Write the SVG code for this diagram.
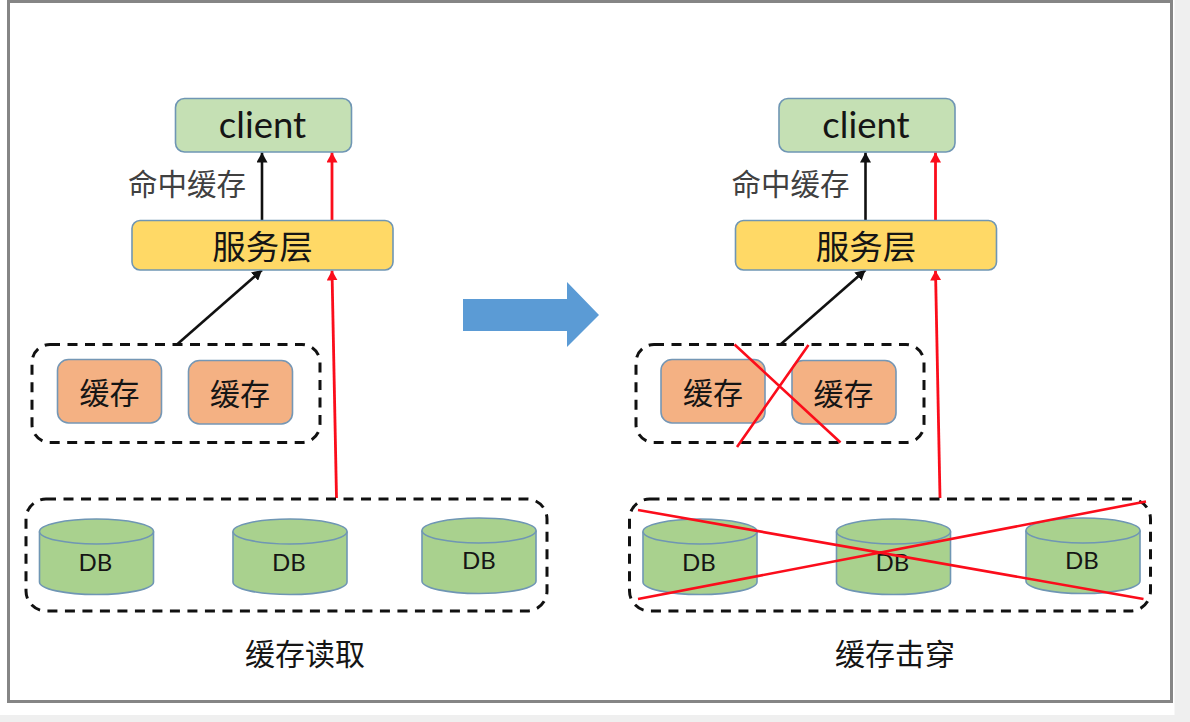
<svg xmlns="http://www.w3.org/2000/svg" width="1190" height="722" viewBox="0 0 1190 722">
<style>
text{text-anchor:middle;font-family:"Noto Sans CJK SC","Noto Sans",sans-serif;fill:#151515;font-weight:400}
.lat{font-family:Lato,"Noto Sans",sans-serif}
.client{fill:#c5e0b4;stroke:#6f96b4;stroke-width:1.6}
.svc{fill:#ffd966;stroke:#6f96b4;stroke-width:1.6}
.cache{fill:#f4b183;stroke:#7597b5;stroke-width:1.6}
.db{fill:#a9d18e;stroke:#6f96b4;stroke-width:1.6}
.grp{fill:none;stroke:#111;stroke-width:3;stroke-dasharray:10 7.5}
.k{fill:none;stroke:#111;stroke-width:2.6}
.r{fill:none;stroke:#fb0d1b;stroke-width:2.8}
.x{fill:none;stroke:#fb0d1b;stroke-width:2.6}
</style>
<defs>
<marker id="ak" markerUnits="userSpaceOnUse" markerWidth="11" markerHeight="11" refX="10" refY="5.500" orient="auto"><path d="M0 0L10 5.500L0 11Z" fill="#111"/></marker>
<marker id="ar" markerUnits="userSpaceOnUse" markerWidth="11" markerHeight="11" refX="10" refY="5.500" orient="auto"><path d="M0 0L10 5.500L0 11Z" fill="#fb0d1b"/></marker>
<g id="cyl"><path class="db" d="M0 12.500V63C0 70 25.500 75.500 57 75.500S114 70 114 63V12.500"/><ellipse class="db" cx="57" cy="12.500" rx="57" ry="12.500"/></g>
</defs>
<rect width="1190" height="722" fill="#efefef"/>
<rect x="0" y="0" width="1174.500" height="715" fill="#fff"/>
<rect id="frame" x="8.500" y="1.500" width="1163" height="700" fill="#fff" stroke="#858585" stroke-width="3"/>
<g id="connectors">
<path class="k" marker-end="url(#ak)" d="M262 220V152.500"/>
<path class="r" marker-end="url(#ar)" d="M332 220V152.500"/>
<path class="k" marker-end="url(#ak)" d="M177.500 344L262 270"/>
<path class="r" marker-end="url(#ar)" d="M336.500 498L332 270.500"/>
<path class="k" marker-end="url(#ak)" d="M865.500 220V152.500"/>
<path class="r" marker-end="url(#ar)" d="M935.500 220V152.500"/>
<path class="k" marker-end="url(#ak)" d="M781 344L865.500 270"/>
<path class="r" marker-end="url(#ar)" d="M940 498L935.500 270.500"/>
</g>
<g id="left-client"><rect class="client" x="175.500" y="98.500" width="176" height="53.500" rx="9"/><text class="lat" x="262.500" y="138" font-size="36.500">client</text></g>
<text id="left-hit" x="187" y="194.500" font-size="29.500" style="fill:#404040">命中缓存</text>
<g id="left-service"><rect class="svc" x="132" y="220.500" width="261" height="49.500" rx="8"/><text x="262.500" y="258.500" font-size="33.500">服务层</text></g>
<rect id="left-cache-group" class="grp" x="32" y="344.500" width="288" height="98" rx="18"/>
<g id="left-cache-1"><rect class="cache" x="57.500" y="359.500" width="104" height="63.500" rx="11"/><text x="109.500" y="404" font-size="30">缓存</text></g>
<g id="left-cache-2"><rect class="cache" x="188.500" y="360.500" width="104" height="63.500" rx="11"/><text x="240" y="405" font-size="30">缓存</text></g>
<rect id="left-db-group" class="grp" x="26" y="499" width="521" height="112" rx="20"/>
<g id="left-db-1"><use href="#cyl" x="39.500" y="519"/><text class="lat" x="95.500" y="571" font-size="24">DB</text></g>
<g id="left-db-2"><use href="#cyl" x="233" y="519"/><text class="lat" x="289" y="571" font-size="24">DB</text></g>
<g id="left-db-3"><use href="#cyl" x="422" y="518"/><text class="lat" x="479" y="569" font-size="24">DB</text></g>
<text id="left-title" x="305" y="665" font-size="30">缓存读取</text>
<path id="big-arrow" d="M463 299H567V282L599 315L567 347V331H463Z" fill="#5b9bd5"/>
<g id="right-client"><rect class="client" x="779" y="98.500" width="176" height="53.500" rx="9"/><text class="lat" x="866" y="138" font-size="36.500">client</text></g>
<text id="right-hit" x="790.500" y="194.500" font-size="29.500" style="fill:#404040">命中缓存</text>
<g id="right-service"><rect class="svc" x="735.500" y="220.500" width="261" height="49.500" rx="8"/><text x="866" y="258.500" font-size="33.500">服务层</text></g>
<rect id="right-cache-group" class="grp" x="636" y="344.500" width="288" height="98" rx="18"/>
<g id="right-cache-1"><rect class="cache" x="661" y="359.500" width="104" height="63.500" rx="11"/><text x="713" y="404" font-size="30">缓存</text></g>
<g id="right-cache-2"><rect class="cache" x="792" y="360.500" width="104" height="63.500" rx="11"/><text x="843.500" y="405" font-size="30">缓存</text></g>
<rect id="right-db-group" class="grp" x="629.500" y="499" width="521" height="112" rx="20"/>
<g id="right-db-1"><use href="#cyl" x="643" y="519"/><text class="lat" x="699" y="571" font-size="24">DB</text></g>
<g id="right-db-2"><use href="#cyl" x="836.500" y="519"/><text class="lat" x="892.500" y="571" font-size="24">DB</text></g>
<g id="right-db-3"><use href="#cyl" x="1026" y="518"/><text class="lat" x="1082" y="569" font-size="24">DB</text></g>
<text id="right-title" x="895" y="665" font-size="30">缓存击穿</text>
<g id="crosses">
<path class="x" d="M734.500 344.500L840.500 442.500M808.500 345L737 447"/>
<path class="x" d="M638 510L1143.500 599M638 599L1146 501.500"/>
</g>
</svg>
